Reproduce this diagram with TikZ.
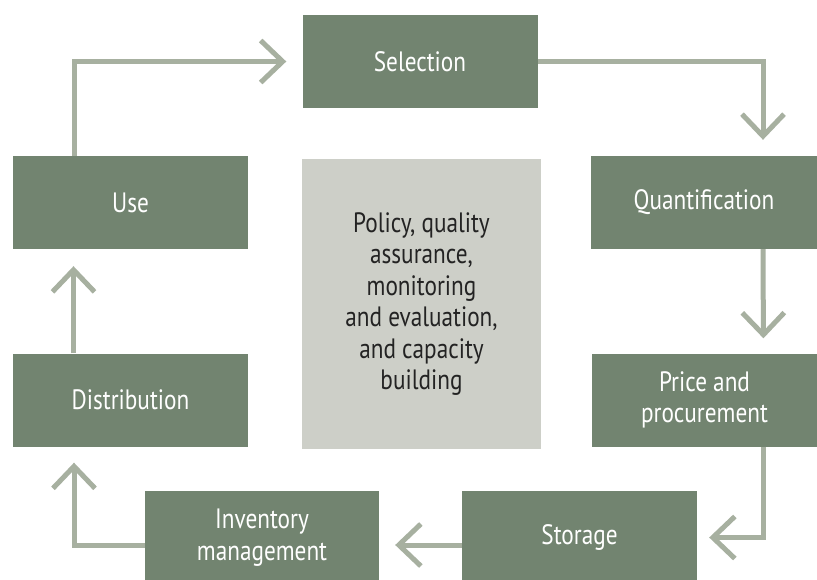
\documentclass[tikz,border=0pt]{standalone}
\usepackage{fontspec}
\newfontfamily\boxfont{PT Sans}[FakeStretch=0.83]
\usetikzlibrary{arrows.meta}
\definecolor{boxgreen}{RGB}{114,132,112}
\definecolor{flowgrey}{RGB}{167,176,160}
\definecolor{coregrey}{RGB}{205,207,200}
\definecolor{coretext}{RGB}{35,35,35}
\tikzset{
x=1pt, y=-1pt,
stage/.style={fill=boxgreen, text=white, minimum width=235pt, minimum height=93pt,
  inner sep=0pt, align=center, font=\boxfont\fontsize{28}{31.5}\selectfont},
core/.style={fill=coregrey, text=coretext, minimum width=239pt, minimum height=290pt,
  inner sep=0pt, align=center, font=\boxfont\fontsize{28}{31.5}\selectfont},
flow/.style={draw=flowgrey, line width=5pt,
  -{Straight Barb[length=22pt,width=42pt]}},
}

\begin{document}
\begin{tikzpicture}
    \clip (0,0) rectangle (817,579);
    \fill[white] (0,0) rectangle (817,579);

    \node[stage] (sel) at (420,61.5) {Selection};
    \node[stage] (use) at (130.5,202.5) {Use};
    \node[stage,minimum width=226pt] (quant) at (704,202.5) {Quantification};
    \node[core] (core) at (421.5,304) {Policy, quality\\assurance,\\monitoring\\and evaluation,\\and capacity\\building};
    \node[stage] (dist) at (130.5,400) {Distribution};
    \node[stage,minimum width=226pt] (price) at (704.5,400) {Price and\\procurement};
    \node[stage,minimum width=234pt] (inv) at (262,537.5) {Inventory\\management};
    \node[stage] (store) at (579.5,537.5) {Storage};

    \draw[flow,shorten >=16pt] ([xshift=-56pt]use.north) |- (sel.west);
    \draw[flow,shorten >=16pt] (sel.east) -| ([xshift=59pt]quant.north);
    \draw[flow,shorten >=15pt] ([xshift=59pt]quant.south) -- ([xshift=59pt]price.north);
    \draw[flow,shorten >=12pt] ([xshift=59pt]price.south) |- (store.east);
    \draw[flow,shorten >=16pt] ([yshift=-7.5pt]store.west) -- ([yshift=-7.5pt]inv.east);
    \draw[flow,shorten >=16pt] ([yshift=-7.5pt]inv.west) -| ([xshift=-56.5pt]dist.south);
    \draw[flow,shorten >=17pt] ([xshift=-57pt]dist.north) -- ([xshift=-57pt]use.south);
\end{tikzpicture}
\end{document}
